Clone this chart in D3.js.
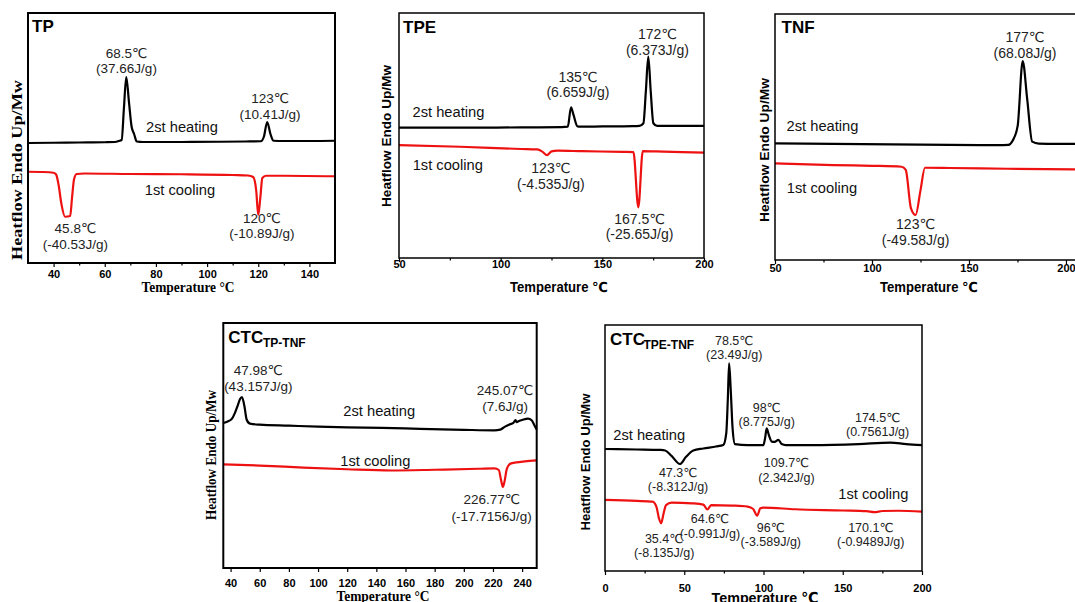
<!DOCTYPE html>
<html>
<head>
<meta charset="utf-8">
<script src="https://cdn.jsdelivr.net/npm/d3@7"></script>
<style>
body { margin: 0; background: #fff; }
svg text { font-family: "Liberation Sans", Arial, "DejaVu Sans", sans-serif; }
</style>
</head>
<body>
<script>
// ---- data: temperature (°C) and relative heat flow ----
var tpHeatT = [30, 40, 50, 60, 64, 65.5, 66.6, 67.5, 68.4, 69.5, 70.5, 71.5, 72.5, 75, 90, 105, 115, 121, 122.2, 123.5, 124.8, 126, 130, 140, 150];
var tpHeatV = [48.0, 48.1, 48.2, 48.3, 48.4, 48.8, 49.2, 62, 74.4, 64, 54.5, 51.5, 48.6, 48.4, 48.4, 48.5, 48.6, 48.7, 50.5, 56.4, 51.5, 48.9, 48.8, 48.8, 48.9];
var tpCoolT = [30, 36, 40, 41, 42, 43, 44.5, 46.5, 47.2, 48, 49, 52, 70, 90, 110, 116, 118, 119.2, 120, 120.8, 121.6, 123, 130, 150];
var tpCoolV = [36.5, 36.4, 36.1, 35.4, 31, 24, 18.5, 18.8, 26, 33.5, 35.6, 35.8, 35.6, 35.5, 35.2, 35.0, 34.4, 29, 19.2, 26, 34, 34.9, 34.9, 34.7];

var tpeHeatT = [50, 80, 110, 130, 133, 134.6, 135.8, 137.7, 139, 150, 165, 168.2, 170.2, 171.4, 172.6, 173.8, 175.1, 177, 185, 200];
var tpeHeatV = [53.2, 53.2, 53.3, 53.4, 53.6, 61.5, 58.5, 53.8, 53.6, 53.7, 53.8, 53.9, 55, 68, 82.2, 68, 55, 53.9, 53.9, 53.9];
var tpeCoolT = [50, 80, 110, 118, 120.5, 122.8, 125, 128, 140, 160, 165.3, 167.7, 169.9, 180, 200];
var tpeCoolV = [46.1, 45.4, 44.5, 44.3, 43.4, 42.0, 43.5, 43.8, 43.6, 43.3, 43.2, 20.7, 43.6, 43.4, 43.0];

var tnfHeatT = [50, 80, 110, 140, 165, 170.3, 172.5, 175.1, 177.7, 180, 182.6, 186, 195, 206];
var tnfHeatV = [47.4, 47.2, 47.0, 46.8, 46.7, 46.8, 48.5, 54.5, 80.9, 65.5, 48.1, 47.3, 47.2, 47.2];
var tnfCoolT = [50, 80, 100, 115.3, 117.4, 120.1, 122.5, 125, 127.3, 140, 170, 206];
var tnfCoolV = [39.3, 38.6, 38.3, 37.9, 36.6, 21.0, 18.3, 28.3, 37.5, 37.4, 37.1, 36.8];

var ctc1HeatT = [35, 38, 41, 43, 45, 46.5, 47.8, 49.5, 51, 53.3, 60, 80, 100, 120, 144, 170, 200, 221, 225, 228, 231, 234, 235.5, 236.3, 237.5, 240, 244, 246.5, 248.5, 250];
var ctc1HeatV = [59.2, 59.8, 61, 63.3, 66.5, 69, 69.8, 66, 60.6, 58.9, 58.5, 58.1, 57.7, 57.4, 57.2, 56.8, 56.4, 56.2, 56.5, 57.6, 58.5, 59.2, 60.4, 59.5, 59.9, 60.4, 61, 60.3, 58.2, 56.5];
var ctc1CoolT = [35, 60, 90, 120, 150, 180, 210, 221, 224, 225.5, 226.8, 228, 229.5, 232, 236, 242, 250];
var ctc1CoolV = [42.3, 41.8, 41.0, 40.3, 39.8, 40.1, 40.5, 40.7, 40.0, 36.0, 33.1, 35.5, 40.5, 42.6, 43.1, 43.5, 43.9];

var ctc2HeatT = [0, 20, 35, 38, 42, 47.3, 51, 55.7, 62, 70, 74.6, 76.5, 77.5, 78.3, 79.3, 80.5, 82, 90, 99.9, 101, 102, 103.5, 105.2, 107, 109.4, 111.5, 114, 130, 160, 180, 190, 200];
var ctc2HeatV = [49.6, 49.4, 49.2, 49.0, 46.8, 43.5, 46.3, 49.0, 49.8, 50.6, 51.2, 56, 70, 84.4, 74, 58, 51.6, 51.2, 51.2, 54, 58.0, 55, 52.6, 52.5, 53.3, 51.6, 51.2, 51.2, 51.6, 52.2, 51.6, 51.2];
var ctc2CoolT = [0, 20, 30, 32.5, 34, 35.4, 37, 38.5, 42, 55, 62, 64.6, 67, 80, 90, 93.5, 96, 98, 100, 120, 150, 165, 170, 175, 185, 200];
var ctc2CoolV = [28.9, 28.5, 28.2, 26, 21.5, 19.4, 23.5, 26.8, 27.8, 27.5, 27.0, 25.0, 26.8, 26.6, 26.2, 25.2, 22.5, 25.5, 25.8, 25.1, 24.6, 24.3, 23.9, 24.4, 24.5, 24.1];

// peak labels (temperature, enthalpy)
var tpLabels = [["68.5℃", "(37.66J/g)"], ["123℃", "(10.41J/g)"], ["45.8℃", "(-40.53J/g)"], ["120℃", "(-10.89J/g)"]];
var tpeLabels = [["172℃", "(6.373J/g)"], ["135℃", "(6.659J/g)"], ["123℃", "(-4.535J/g)"], ["167.5℃", "(-25.65J/g)"]];
var tnfLabels = [["177℃", "(68.08J/g)"], ["123℃", "(-49.58J/g)"]];
var ctc1Labels = [["47.98℃", "(43.157J/g)"], ["245.07℃", "(7.6J/g)"], ["226.77℃", "(-17.7156J/g)"]];
var ctc2Labels = [["78.5℃", "(23.49J/g)"], ["98℃", "(8.775J/g)"], ["174.5℃", "(0.7561J/g)"], ["109.7℃", "(2.342J/g)"],
                  ["47.3℃", "(-8.312J/g)"], ["64.6℃", "(-0.991J/g)"], ["96℃", "(-3.589J/g)"], ["35.4℃", "(-8.135J/g)"], ["170.1℃", "(-0.9489J/g)"]];

var width = 1075, height = 602;
var svg = d3.select("body").append("svg").attr("width", width).attr("height", height);

// layout of each panel (pixel boxes, label anchors in data units)
var panels = [
  { title: "TP", box: [28, 13, 335, 263], domain: [30, 150], major: d3.range(40, 141, 20), minor: d3.range(50, 131, 20),
    heat: [tpHeatT, tpHeatV], cool: [tpCoolT, tpCoolV], serif: true, frameW: 2,
    labels: tpLabels, pos: [[68.5, 82.2], [124.6, 63.9], [48.5, 11.9], [121.4, 16.1]], noteSize: 13.5, gap: 15.5,
    heatPos: [90.2, 52.5], coolPos: [89.4, 27.2],
    titlePos: [32, 31.5], ylab: [21.5, 170, 15, 180], xlab: [188, 291.5, 14, 93], tickBase: 278 },
  { title: "TPE", box: [399, 13, 704, 258], domain: [50, 200], major: [50, 100, 150, 200], minor: [75, 125, 175],
    heat: [tpeHeatT, tpeHeatV], cool: [tpeCoolT, tpeCoolV], serif: false, frameW: 1.5,
    labels: tpeLabels, pos: [[177.1, 89.3], [138, 72.0], [124.7, 34.6], [168.3, 13.9]], noteSize: 14, gap: 15.5,
    heatPos: [74.3, 57.7], coolPos: [74.0, 35.9],
    titlePos: [403, 33], ylab: [390.5, 136, 13.5, 142], xlab: [559, 291.5, 14, 98], tickBase: 268 },
  { title: "TNF", box: [775, 14, 1077.6, 260], domain: [50, 206], major: [50, 100, 150, 200], minor: [75, 125, 175],
    heat: [tnfHeatT, tnfHeatV], cool: [tnfCoolT, tnfCoolV], serif: false, frameW: 1.5,
    labels: tnfLabels, pos: [[178.9, 88.7], [122.5, 12.5]], noteSize: 14, gap: 16,
    heatPos: [74.5, 52.4], coolPos: [74.2, 27.4],
    titlePos: [781.5, 33], ylab: [769, 150, 13.5, 144], xlab: [929, 292, 14, 98], tickBase: 271.5 },
  { title: "CTC", sub: "TP-TNF", box: [223.3, 323, 536.7, 568], domain: [35, 250], major: d3.range(40, 241, 20), minor: [],
    heat: [ctc1HeatT, ctc1HeatV], cool: [ctc1CoolT, ctc1CoolV], serif: true, frameW: 2,
    labels: ctc1Labels, pos: [[59.0, 78.9], [228.3, 70.7], [219.1, 26.0]], noteSize: 13.5, gap: 16.5,
    heatPos: [142, 61.9], coolPos: [139.3, 41.6],
    titlePos: [228.3, 343.3], subPos: [263, 347], ylab: [215.5, 455, 14, 130], xlab: [383, 601, 14, 93], tickBase: 587 },
  { title: "CTC", sub: "TPE-TNF", box: [605, 325, 922, 571], domain: [0, 200], major: [0, 50, 100, 150, 200], minor: [25, 75, 125, 175],
    heat: [ctc2HeatT, ctc2HeatV], cool: [ctc2CoolT, ctc2CoolV], serif: false, frameW: 1.5,
    labels: ctc2Labels,
    pos: [[81.5, 91.9], [102, 64.8], [172.0, 60.7], [114.5, 42.2], [46.1, 38.3], [66.2, 19.4], [104.6, 16.0], [37.3, 11.5], [167.7, 16.0]],
    noteSize: 12.5, gap: 14.5,
    heatPos: [27.9, 53.3], coolPos: [169.3, 29.1],
    titlePos: [610, 345], subPos: [643.5, 348.5], ylab: [590, 462, 13.5, 137], xlab: [765, 603, 15, 107], tickBase: 591.5 }
];

var serifFont = '"Liberation Serif", "Times New Roman", serif';

panels.forEach(function(p) {
  var b = p.box;
  var x = d3.scaleLinear().domain(p.domain).range([b[0], b[2]]);
  var y = d3.scaleLinear().domain([0, 100]).range([b[3], b[1]]);
  var g = svg.append("g");

  var line = d3.line()
    .x(function(d) { return x(d[0]); })
    .y(function(d) { return y(d[1]); })
    .curve(d3.curveMonotoneX);

  g.append("path").datum(d3.zip(p.cool[0], p.cool[1]))
    .attr("d", line).attr("fill", "none").attr("stroke", "#ee1111").attr("stroke-width", 2.2);
  g.append("path").datum(d3.zip(p.heat[0], p.heat[1]))
    .attr("d", line).attr("fill", "none").attr("stroke", "#000").attr("stroke-width", 2.2);

  // bottom axis: major + minor ticks
  var axg = g.append("g").attr("transform", "translate(0," + b[3] + ")")
    .call(d3.axisBottom(x).tickValues(p.major).tickSize(4).tickFormat(d3.format("d")));
  axg.select(".domain").remove();
  axg.selectAll("line").attr("stroke", "#000").attr("stroke-width", 1.2);
  axg.selectAll("text")
    .attr("y", p.tickBase - b[3]).attr("dy", null)
    .attr("fill", "#000")
    .style("font-size", "11px").style("font-weight", "bold")
    .style("font-family", '"Liberation Sans", Arial, sans-serif');
  if (p.minor.length) {
    var mg = g.append("g").attr("transform", "translate(0," + b[3] + ")")
      .call(d3.axisBottom(x).tickValues(p.minor).tickSize(2.5).tickFormat(""));
    mg.select(".domain").remove();
    mg.selectAll("line").attr("stroke", "#000").attr("stroke-width", 1.2);
  }

  g.append("rect")
    .attr("x", b[0]).attr("y", b[1]).attr("width", b[2] - b[0]).attr("height", b[3] - b[1])
    .attr("fill", "none").attr("stroke", "#000").attr("stroke-width", p.frameW);

  // title
  var t = g.append("text").attr("x", p.titlePos[0]).attr("y", p.titlePos[1])
    .style("font-size", "17px").style("font-weight", "bold").attr("fill", "#000").text(p.title);
  if (p.sub) {
    g.append("text").attr("x", p.subPos[0]).attr("y", p.subPos[1])
      .style("font-size", "12px").style("font-weight", "bold").attr("fill", "#000").text(p.sub);
  }

  // peak annotations
  p.labels.forEach(function(lab, i) {
    var px = x(p.pos[i][0]), py = y(p.pos[i][1]);
    lab.forEach(function(s, k) {
      g.append("text").attr("x", px).attr("y", py + k * p.gap)
        .attr("text-anchor", "middle").attr("fill", "#222")
        .style("font-size", p.noteSize + "px").text(s);
    });
  });

  [["2st heating", p.heatPos], ["1st cooling", p.coolPos]].forEach(function(d) {
    g.append("text").attr("x", x(d[1][0])).attr("y", y(d[1][1]))
      .attr("text-anchor", "middle").attr("fill", "#111")
      .style("font-size", "14.7px").text(d[0]);
  });

  // axis titles
  var yl = g.append("text")
    .attr("transform", "translate(" + p.ylab[0] + "," + p.ylab[1] + ") rotate(-90)")
    .attr("text-anchor", "middle").attr("fill", "#000")
    .attr("textLength", p.ylab[3]).attr("lengthAdjust", "spacingAndGlyphs")
    .style("font-size", p.ylab[2] + "px").style("font-weight", "bold")
    .text("Heatflow Endo Up/Mw");
  var xl = g.append("text").attr("x", p.xlab[0]).attr("y", p.xlab[1])
    .attr("text-anchor", "middle").attr("fill", "#000")
    .attr("textLength", p.xlab[3]).attr("lengthAdjust", "spacingAndGlyphs")
    .style("font-size", p.xlab[2] + "px").style("font-weight", "bold")
    .text(p.serif ? "Temperature °C" : "Temperature ℃");
  if (p.serif) {
    yl.style("font-family", serifFont);
    xl.style("font-family", serifFont);
  }
});
</script>
</body>
</html>
